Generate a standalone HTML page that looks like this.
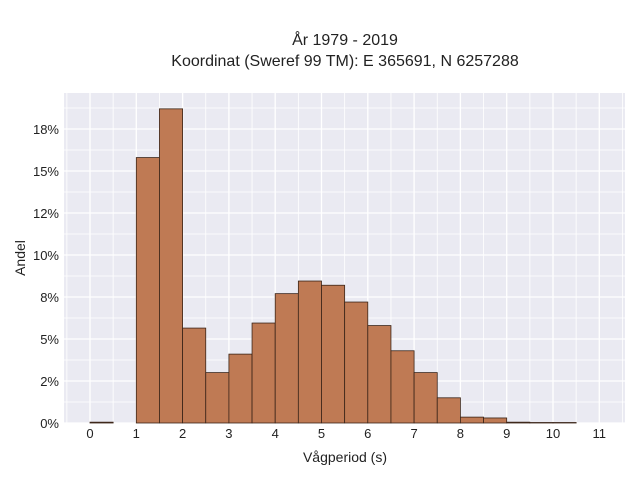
<!DOCTYPE html>
<html><head><meta charset="utf-8"><style>
body{margin:0;background:#fff;font-family:"Liberation Sans",sans-serif}
svg text{font-family:"Liberation Sans",sans-serif;fill:#222}
</style></head><body>
<svg id="chart" width="640" height="480">
<text x="345" y="45" text-anchor="middle" font-size="16">År 1979 - 2019</text>
<text x="345" y="66" text-anchor="middle" font-size="16">Koordinat (Sweref 99 TM): E 365691, N 6257288</text>
<rect x="64" y="93" width="561" height="330" fill="#eaeaf2"/>
<g id="grid"></g><g id="bars"></g><g id="xt"></g><g id="yt"></g>
<text x="345" y="462" text-anchor="middle" font-size="14">Vågperiod (s)</text>
<text x="25" y="258" text-anchor="middle" font-size="14" transform="rotate(-90 25 258)">Andel</text>
</svg>
<script>
const binStarts=[0,1,1.5,2,2.5,3,3.5,4,4.5,5,5.5,6,6.5,7,7.5,8,8.5,9,9.5,10];
const binValues=[0.05,15.8,18.7,5.65,3.0,4.1,5.95,7.7,8.45,8.2,7.2,5.8,4.3,3.0,1.5,0.35,0.3,0.05,0.03,0.03];
const binWidth=0.5;
const xTicks=[0,1,2,3,4,5,6,7,8,9,10,11];
const yTicks=[0,2.5,5,7.5,10,12.5,15,17.5];
const yLabels=["0%","2%","5%","8%","10%","12%","15%","18%"];
const NS="http://www.w3.org/2000/svg";
const X=v=>90+v*46.3, Y=v=>423-v*16.8;
function mk(t,a,p){const e=document.createElementNS(NS,t);for(const k in a)e.setAttribute(k,a[k]);p.appendChild(e);return e;}
const grid=document.getElementById('grid'),bars=document.getElementById('bars'),xt=document.getElementById('xt'),yt=document.getElementById('yt');
for(let v=-0.5;v<=11.5;v+=0.5){const x=X(v);if(x<64||x>625)continue;
 const l=mk('line',{x1:x,x2:x,y1:93,y2:423,stroke:'#fff','stroke-width':Number.isInteger(v)?1.3:0.8},grid);
 
 }
for(let v=0;v<=18.75;v+=1.25){const y=Y(v);if(y<93)continue;
 const l=mk('line',{x1:64,x2:625,y1:y,y2:y,stroke:'#fff','stroke-width':v%2.5===0?1.3:0.8},grid);
 
 }
binStarts.forEach((s,i)=>{const x=X(s),w=X(s+binWidth)-x,y=Y(binValues[i]);
 const r=mk('rect',{x:x,y:y,width:w,height:423-y,fill:'#bf7a54',stroke:'#3a2418','stroke-width':0.8},bars);
 
 });
xTicks.forEach(v=>{const t=mk('text',{x:X(v),y:438,'text-anchor':'middle','font-size':13},xt);t.textContent=v;
 
 });
yTicks.forEach((v,i)=>{const t=mk('text',{x:59,y:Y(v)+5,'text-anchor':'end','font-size':13},yt);t.textContent=yLabels[i];
 
 });
</script>
</body></html>
